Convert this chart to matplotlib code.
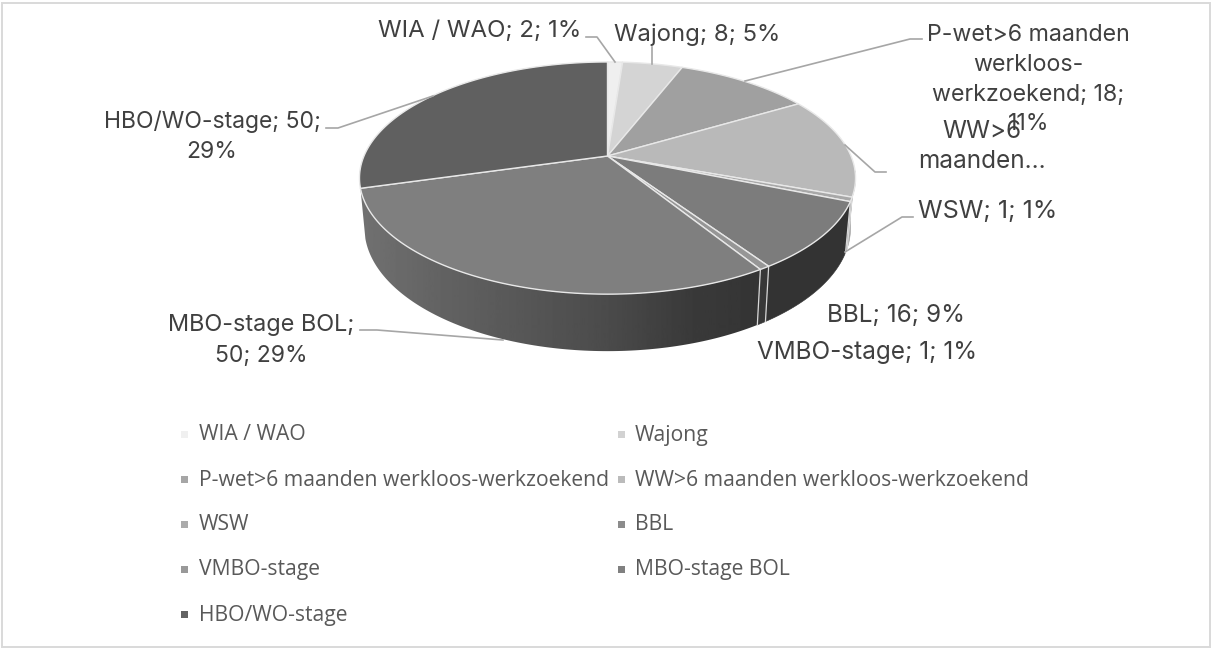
import numpy as np
import matplotlib
matplotlib.use("Agg")
import matplotlib.pyplot as plt
from matplotlib.patches import Polygon, Rectangle

# ---- data ----
categories = ["WIA / WAO", "Wajong", "P-wet>6 maanden werkloos-werkzoekend",
              "WW>6 maanden werkloos-werkzoekend", "WSW", "BBL",
              "VMBO-stage", "MBO-stage BOL", "HBO/WO-stage"]
values = [2, 8, 18, 24, 1, 16, 1, 50, 50]
top_colors = ["#efefef", "#d4d4d4", "#a0a0a0", "#b9b9b9", "#a8a8a8",
              "#7c7c7c", "#969696", "#7f7f7f", "#606060"]
side_colors = ["#bbbbbb", "#aaaaaa", "#808080", "#a0a0a0", "#b0b0b0",
               "#333333", "#383838", None, None]
legend_colors = ["#f0f0f0", "#d2d2d2", "#a6a6a6", "#bbbbbb", "#ababab",
                 "#8c8c8c", "#999999", "#808080", "#636363"]

# ---- layout (pixels) ----
W, H = 1212, 648
CX, CY = 607.5, 156
B = -0.19
A = 111.9
C = 243.5
D0 = 48.4
BOT = 0.98
LABEL_COL = "#404040"
LEGEND_COL = "#595959"
LINE_COL = "#a6a6a6"

labels = [
    ("WIA / WAO; 2; 1%", 581, 31, "right", 17.3),
    ("Wajong; 8; 5%", 614, 34.5, "left", 17.2),
    ("P-wet>6 maanden", 1028.5, 35, "center", 16.7),
    ("werkloos-", 1028.5, 65, "center", 16.7),
    ("werkzoekend; 18;", 1028.5, 95, "center", 16.7),
    ("11%", 1028.5, 124, "center", 16.7),
    ("WW>6", 981.5, 131, "center", 17.5),
    ("maanden\u2026", 981.5, 162, "center", 17.5),
    ("WSW; 1; 1%", 918, 211.5, "left", 18),
    ("BBL; 16; 9%", 827, 315, "left", 17.5),
    ("VMBO-stage; 1; 1%", 757, 352, "left", 17.5),
    ("MBO-stage BOL;", 261, 325, "center", 16.9),
    ("50; 29%", 261, 355.5, "center", 16.5),
    ("HBO/WO-stage; 50;", 212, 122, "center", 16.5),
    ("29%", 212, 152.5, "center", 16.5),
]
leaders = [
    [(586, 37), (597, 37), (615, 62)],
    [(652, 47), (652, 64)],
    [(745, 81), (910, 39), (922, 39)],
    [(845, 145), (875, 172), (886, 172)],
    [(845, 252), (902, 217), (913, 217)],
    [(326, 128), (338, 128), (433, 96)],
    [(360, 330), (377, 330), (503, 340)],
]
LEG_ROWS = [435, 480, 525, 570, 615]
LEG_MARK_X = [181, 618]
LEG_TEXT_X = [199, 635]
LEG_MARK = 7
GRAD_X = [355, 443, 607, 690, 775]
GRAD_V = [0x72, 0x62, 0x4b, 0x3a, 0x33]


def top_xy(theta):
    s, c = np.sin(theta), np.cos(theta)
    den = 1 - B * s
    return CX + C * c / den, CY - A * s / den


def bottom_xy(theta):
    s, c = np.sin(theta), np.cos(theta)
    den = 1 - B * s
    return CX + BOT * C * c / den, CY - BOT * A * s / den + D0 / den


fig = plt.figure(figsize=(W / 100, H / 100), dpi=100, facecolor="white")
ax = fig.add_axes([0, 0, 1, 1])
ax.set_xlim(0, W)
ax.set_ylim(H, 0)
ax.axis("off")
ax.add_patch(Rectangle((2, 3), W - 4, H - 4.5, fc="white", ec="#d9d9d9", lw=1.4))

fractions = np.array(values, float) / np.sum(values)
edges = np.cumsum(np.concatenate([[0], fractions]))
thetas = np.pi / 2 - edges * 2 * np.pi

# sides
for i in range(len(values)):
    if i == len(values) - 1:
        continue
    n = max(3, int(fractions[i] * 400))
    ts = np.linspace(thetas[i], thetas[i + 1], n + 1)
    ts = ts[np.sin(ts) < -0.12]
    if len(ts) < 2:
        continue
    xt, yt = top_xy(ts)
    xb, yb = bottom_xy(ts)
    pts = np.column_stack([np.r_[xt, xb[::-1]], np.r_[yt, yb[::-1]]])
    if side_colors[i] is None:
        poly = Polygon(pts, closed=True, fc="none", ec="none", transform=ax.transData)
        ax.add_patch(poly)
        grid = np.linspace(GRAD_X[0], GRAD_X[-1], 400)
        grad = np.interp(grid, GRAD_X, GRAD_V)[None, :]
        im = ax.imshow(grad, extent=(GRAD_X[0], GRAD_X[-1], H, 0), cmap="gray",
                       vmin=0, vmax=255, aspect="auto", zorder=2)
        im.set_clip_path(poly)
    else:
        ax.add_patch(Polygon(pts, closed=True, fc=side_colors[i], ec=side_colors[i],
                             lw=0.4, zorder=2))
ax.set_xlim(0, W)
ax.set_ylim(H, 0)

# slice divider lines on the side
for i in range(len(values)):
    t = thetas[i]
    if np.sin(t) < -0.3:
        p, q = top_xy(t), bottom_xy(t)
        ax.plot([p[0], q[0]], [p[1], q[1]], color="#d8d8d8", lw=0.9, zorder=3)

# top faces
for i in range(len(values)):
    n = max(3, int(fractions[i] * 400))
    ts = np.linspace(thetas[i], thetas[i + 1], n + 1)
    xs, ys = top_xy(ts)
    pts = np.column_stack([np.r_[CX, xs], np.r_[CY, ys]])
    ax.add_patch(Polygon(pts, closed=True, fc=top_colors[i], ec="#e8e8e8", lw=1.0, zorder=4))

# leader lines
for pts in leaders:
    xs, ys = zip(*pts)
    ax.plot(xs, ys, color=LINE_COL, lw=1.2, zorder=5, solid_joinstyle="round")

# data labels
for txt, x, y, ha, fs in labels:
    ax.text(x, y, txt, ha=ha, va="center", fontsize=fs, family="Inter", color=LABEL_COL, zorder=6)

# legend
for i, name in enumerate(categories):
    row, col = divmod(i, 2)
    y = LEG_ROWS[row]
    ax.add_patch(Rectangle((LEG_MARK_X[col], y - 1 - LEG_MARK / 2), LEG_MARK, LEG_MARK,
                           fc=legend_colors[i], ec="none", zorder=6))
    ax.text(LEG_TEXT_X[col], y, name, ha="left", va="center", fontsize=15.2,
            family="Open Sans", color=LEGEND_COL, zorder=6)

fig.savefig("out.png", dpi=100)
